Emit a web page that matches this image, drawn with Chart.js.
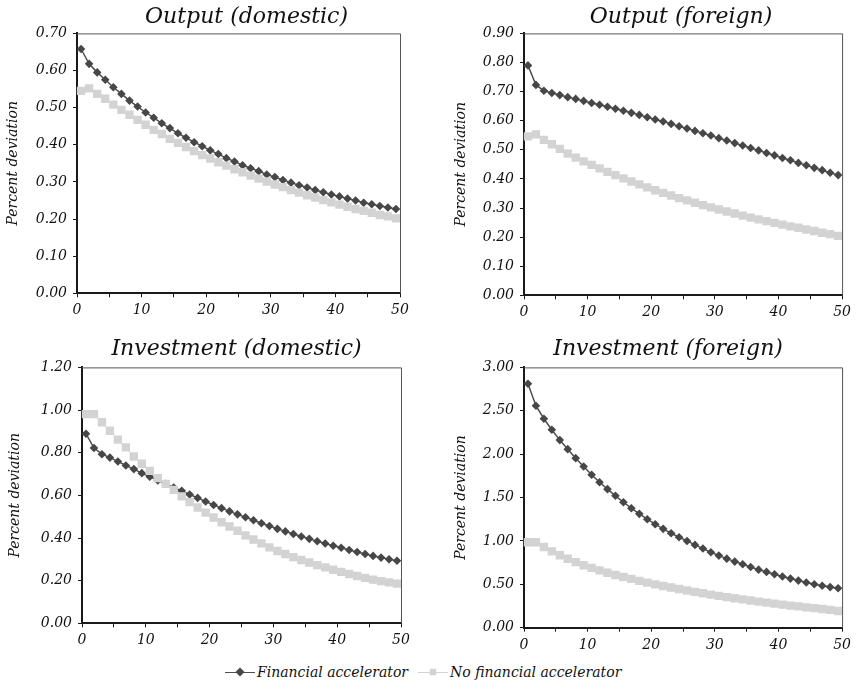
<!DOCTYPE html>
<html>
<head>
<meta charset="utf-8">
<script src="https://cdn.jsdelivr.net/npm/chart.js@4.4.1/dist/chart.umd.min.js"></script>
<style>
    body { margin: 0; background: #fff; width: 856px; height: 691px; position: relative; overflow: hidden; }
    canvas { position: absolute; }
    #legend { position: absolute; left: 225px; top: 662px; height: 20px; display: flex; align-items: center;
        font-family: 'DejaVu Serif', 'Liberation Serif', serif; font-style: italic; font-size: 14px; color: #111; }
    .key { position: relative; width: 30px; height: 20px; margin-right: 2px; }
    .key .ln { position: absolute; left: 0; right: 0; top: 9.5px; height: 1px; }
    .key .mk { position: absolute; left: 11px; top: 6px; width: 8px; height: 8px; }
    .txt { margin-right: 10px; }
</style>
</head>
<body>
<canvas id="c1" width="428" height="330" style="left:0;top:0"></canvas>
<canvas id="c2" width="428" height="330" style="left:428px;top:0"></canvas>
<canvas id="c3" width="428" height="330" style="left:0;top:330px"></canvas>
<canvas id="c4" width="428" height="330" style="left:428px;top:330px"></canvas>
<div id="legend"></div>
<script>
const FONT = "'DejaVu Serif', 'Liberation Serif', serif";

const seriesNames = ['Financial accelerator', 'No financial accelerator'];
const quarters = [1, 2, 3, 4, 5, 6, 7, 8, 9, 10, 11, 12, 13, 14, 15, 16, 17, 18, 19, 20,
    21, 22, 23, 24, 25, 26, 27, 28, 29, 30, 31, 32, 33, 34, 35, 36, 37, 38, 39, 40];
const xTickValues = [0, 5, 10, 15, 20, 25, 30, 35, 40, 45, 50];
const xTickLabels = [0, 10, 20, 30, 40, 50];

// output, domestic
const outDomTitle = 'Output (domestic)';
const outDomFA = [0.658, 0.618, 0.595, 0.575, 0.555, 0.537, 0.519, 0.503, 0.487, 0.473,
    0.458, 0.445, 0.431, 0.419, 0.407, 0.396, 0.385, 0.375, 0.364, 0.355,
    0.345, 0.337, 0.329, 0.320, 0.313, 0.305, 0.298, 0.291, 0.285, 0.278,
    0.272, 0.266, 0.261, 0.255, 0.250, 0.244, 0.240, 0.235, 0.231, 0.227];
const outDomNoFA = [0.545, 0.552, 0.537, 0.524, 0.508, 0.494, 0.481, 0.467, 0.454, 0.440,
    0.429, 0.416, 0.405, 0.394, 0.383, 0.372, 0.363, 0.353, 0.344, 0.334,
    0.326, 0.317, 0.309, 0.301, 0.293, 0.286, 0.278, 0.271, 0.264, 0.258,
    0.251, 0.245, 0.239, 0.233, 0.227, 0.222, 0.217, 0.211, 0.207, 0.202];
const outDomTicks = [0, 0.1, 0.2, 0.3, 0.4, 0.5, 0.6, 0.7];

// output, foreign
const outForTitle = 'Output (foreign)';
const outForFA = [0.790, 0.723, 0.703, 0.695, 0.688, 0.681, 0.675, 0.668, 0.661, 0.655,
    0.648, 0.641, 0.634, 0.627, 0.620, 0.612, 0.604, 0.597, 0.589, 0.581,
    0.573, 0.565, 0.557, 0.549, 0.540, 0.532, 0.523, 0.515, 0.506, 0.498,
    0.489, 0.481, 0.472, 0.464, 0.455, 0.447, 0.438, 0.430, 0.421, 0.413];
const outForNoFA = [0.546, 0.553, 0.534, 0.519, 0.503, 0.487, 0.473, 0.460, 0.448, 0.436,
    0.424, 0.413, 0.402, 0.391, 0.381, 0.371, 0.361, 0.352, 0.343, 0.334,
    0.326, 0.318, 0.310, 0.302, 0.295, 0.288, 0.281, 0.274, 0.267, 0.261,
    0.255, 0.249, 0.243, 0.237, 0.232, 0.226, 0.221, 0.215, 0.210, 0.204];
const outForTicks = [0, 0.1, 0.2, 0.3, 0.4, 0.5, 0.6, 0.7, 0.8, 0.9];

// investment, domestic
const invDomTitle = 'Investment (domestic)';
const invDomFA = [0.889, 0.822, 0.793, 0.777, 0.759, 0.740, 0.723, 0.704, 0.687, 0.670,
    0.654, 0.637, 0.621, 0.604, 0.588, 0.571, 0.555, 0.540, 0.525, 0.511,
    0.497, 0.483, 0.469, 0.456, 0.443, 0.431, 0.419, 0.407, 0.396, 0.385,
    0.374, 0.364, 0.354, 0.344, 0.334, 0.325, 0.316, 0.308, 0.300, 0.293];
const invDomNoFA = [0.981, 0.981, 0.943, 0.903, 0.861, 0.825, 0.782, 0.748, 0.715, 0.681,
    0.654, 0.626, 0.595, 0.568, 0.543, 0.519, 0.496, 0.474, 0.454, 0.434,
    0.412, 0.393, 0.375, 0.356, 0.339, 0.325, 0.310, 0.297, 0.285, 0.273,
    0.262, 0.251, 0.241, 0.231, 0.222, 0.213, 0.205, 0.198, 0.192, 0.186];
const invDomTicks = [0, 0.2, 0.4, 0.6, 0.8, 1.0, 1.2];

// investment, foreign
const invForTitle = 'Investment (foreign)';
const invForFA = [2.812, 2.558, 2.408, 2.281, 2.162, 2.058, 1.954, 1.858, 1.762, 1.677,
    1.597, 1.520, 1.446, 1.377, 1.312, 1.250, 1.193, 1.139, 1.089, 1.043,
    1.000, 0.954, 0.912, 0.870, 0.831, 0.796, 0.762, 0.731, 0.700, 0.669,
    0.643, 0.616, 0.590, 0.566, 0.543, 0.521, 0.500, 0.483, 0.468, 0.455];
const invForNoFA = [0.985, 0.985, 0.930, 0.880, 0.835, 0.795, 0.756, 0.720, 0.689, 0.660,
    0.633, 0.607, 0.584, 0.562, 0.540, 0.519, 0.500, 0.481, 0.463, 0.446,
    0.429, 0.412, 0.397, 0.382, 0.367, 0.353, 0.339, 0.326, 0.313, 0.301,
    0.289, 0.277, 0.266, 0.255, 0.245, 0.235, 0.226, 0.216, 0.206, 0.193];
const invForTicks = [0, 0.5, 1.0, 1.5, 2.0, 2.5, 3.0];

const darkColor = '#474747';
const lightColor = '#d3d3d3';

// top and right edge of the plot box
const frame = {
    id: 'frame',
    afterDraw(chart) {
        const { ctx, chartArea: a } = chart;
        ctx.save();
        ctx.strokeStyle = '#555';
        ctx.lineWidth = 1;
        ctx.beginPath();
        ctx.moveTo(a.left, a.top + 0.5);
        ctx.lineTo(a.right + 0.5, a.top + 0.5);
        ctx.lineTo(a.right + 0.5, a.bottom);
        ctx.stroke();
        ctx.restore();
    }
};

// nudge the title sideways like the original
const titleShift = {
    id: 'titleShift',
    afterLayout(chart, args, opts) {
        const t = chart.titleBlock;
        if (t && opts.dx) {
            t.left += opts.dx;
            t.right += opts.dx;
        }
    }
};

const tickFont = { family: FONT, size: 14, style: 'italic' };

function makePanel(id, title, fa, nofa, yTicks, o) {
    new Chart(document.getElementById(id), {
        type: 'line',
        data: {
            labels: quarters,
            datasets: [
                {
                    label: seriesNames[0], data: fa, order: 1,
                    borderColor: '#4f4f4f', borderWidth: 1.5, tension: 0,
                    backgroundColor: darkColor, pointStyle: 'rectRot',
                    pointRadius: 4.3, pointBorderWidth: 0
                },
                {
                    label: seriesNames[1], data: nofa, order: 0,
                    borderColor: lightColor, borderWidth: 1, tension: 0,
                    backgroundColor: lightColor, pointStyle: 'rect',
                    pointRadius: 5.9, pointBorderWidth: 0
                }
            ]
        },
        options: {
            responsive: false,
            animation: false,
            devicePixelRatio: 1,
            layout: { padding: { left: o.padL, right: o.padR, top: 0, bottom: 0 } },
            plugins: {
                legend: { display: false },
                tooltip: { enabled: false },
                title: {
                    display: true, text: title, fullSize: false, color: '#111',
                    font: { family: FONT, size: 22, style: 'italic', weight: 'normal' },
                    padding: { top: o.tTop, bottom: o.tBot }
                },
                titleShift: { dx: o.tDx }
            },
            scales: {
                x: { type: 'category', display: false, offset: true },
                xt: {
                    type: 'linear', position: 'bottom', min: 0, max: 50,
                    afterBuildTicks: s => { s.ticks = xTickValues.map(v => ({ value: v })); },
                    afterFit: s => { s.height = o.xH; },
                    ticks: {
                        font: tickFont, color: '#111', padding: 5, maxRotation: 0, autoSkip: false,
                        callback: v => xTickLabels.includes(v) ? String(v) : ''
                    },
                    grid: { drawOnChartArea: false, tickLength: 4, color: '#1a1a1a' },
                    border: { color: '#1a1a1a', width: 2 }
                },
                y: {
                    min: 0, max: yTicks[yTicks.length - 1],
                    afterBuildTicks: s => { s.ticks = yTicks.map(v => ({ value: v })); },
                    afterFit: s => { s.width = o.yW; },
                    ticks: { font: tickFont, color: '#111', padding: 6, callback: v => v.toFixed(2) },
                    title: {
                        display: true, text: 'Percent deviation', color: '#111',
                        font: { family: FONT, size: 14, style: 'italic' },
                        padding: { top: o.yTp, bottom: 0 }
                    },
                    grid: { drawOnChartArea: false, tickLength: 4, color: '#1a1a1a' },
                    border: { color: '#1a1a1a', width: 2 }
                }
            }
        },
        plugins: [frame, titleShift]
    });
}

makePanel('c1', outDomTitle, outDomFA, outDomNoFA, outDomTicks,
    { padL: 0, padR: 28, yW: 77, yTp: 5, xH: 36.7, tTop: 4, tBot: 3, tDx: 8 });
makePanel('c2', outForTitle, outForFA, outForNoFA, outForTicks,
    { padL: 20, padR: 9, yW: 76, yTp: 5, xH: 34.7, tTop: 4, tBot: 3, tDx: -2 });
makePanel('c3', invDomTitle, invDomFA, invDomNoFA, invDomTicks,
    { padL: 0, padR: 27, yW: 82, yTp: 7, xH: 36.7, tTop: 6, tBot: 5, tDx: -5 });
makePanel('c4', invForTitle, invForFA, invForNoFA, invForTicks,
    { padL: 20, padR: 9, yW: 76, yTp: 5, xH: 32.3, tTop: 6, tBot: 5, tDx: -15 });

// shared legend under the panels
const legendStyles = [
    { line: '#4f4f4f', mark: darkColor, rot: 45 },
    { line: lightColor, mark: lightColor, rot: 0 }
];
const legend = document.getElementById('legend');
seriesNames.forEach((name, i) => {
    const st = legendStyles[i];
    const key = document.createElement('span');
    key.className = 'key';
    key.innerHTML = '<span class="ln" style="background:' + st.line + '"></span>' +
        '<span class="mk" style="background:' + st.mark + ';transform:rotate(' + st.rot + 'deg) scale(0.8)"></span>';
    const txt = document.createElement('span');
    txt.className = 'txt';
    txt.textContent = name;
    legend.appendChild(key);
    legend.appendChild(txt);
});
</script>
</body>
</html>
